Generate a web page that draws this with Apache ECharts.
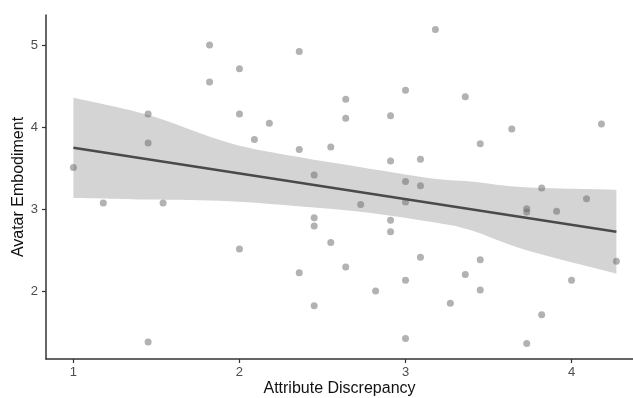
<!DOCTYPE html>
<html>
<head>
<meta charset="utf-8">
<script src="https://cdn.jsdelivr.net/npm/echarts@6/dist/echarts.min.js"></script>
<style>
  html, body { margin: 0; background: #fff; }
  #graph { width: 633px; height: 398px; }
</style>
</head>
<body>
<div id="graph"></div>
<script>
// scatter points
const discrepancy = [
  1.00, 1.18, 1.45, 1.45, 1.45, 1.54, 1.82, 1.82, 2.00, 2.00,
  2.00, 2.09, 2.18, 2.36, 2.36, 2.36, 2.45, 2.45, 2.45, 2.45,
  2.55, 2.55, 2.64, 2.64, 2.64, 2.73, 2.82, 2.91, 2.91, 2.91,
  2.91, 3.00, 3.00, 3.00, 3.00, 3.00, 3.09, 3.09, 3.09, 3.18,
  3.27, 3.36, 3.36, 3.45, 3.45, 3.45, 3.64, 3.73, 3.73, 3.73,
  3.82, 3.82, 3.91, 4.00, 4.09, 4.18, 4.27
];
const embodiment = [
  3.51, 3.08, 4.16, 3.81, 1.39, 3.08, 5.00, 4.55, 4.71, 4.16,
  2.52, 3.85, 4.05, 4.92, 3.73, 2.23, 3.42, 2.90, 2.80, 1.83,
  3.76, 2.60, 4.34, 4.11, 2.30, 3.06, 2.01, 4.14, 3.59, 2.87,
  2.73, 4.45, 3.34, 3.09, 2.14, 1.43, 3.61, 3.29, 2.42, 5.19,
  1.86, 4.37, 2.21, 3.80, 2.39, 2.02, 3.98, 3.01, 2.97, 1.37,
  3.26, 1.72, 2.98, 2.14, 3.13, 4.04, 2.37
];

// fitted line ends and confidence band edges
const fitX = [1.00, 4.27];
const fitY = [3.75, 2.73];
const bandX = [1.00, 1.45, 1.94, 2.35, 2.74, 3.15, 3.39, 3.72, 4.27];
const bandUpper = [4.36, 4.15, 3.81, 3.64, 3.51, 3.38, 3.34, 3.27, 3.24];
const bandLower = [3.14, 3.12, 3.10, 3.04, 2.97, 2.85, 2.75, 2.51, 2.22];

const xTicks = [1, 2, 3, 4];
const yTicks = [2, 3, 4, 5];

const chartDom = document.getElementById('graph');
const myChart = echarts.init(chartDom);

const points = discrepancy.map((x, i) => [x, embodiment[i]]);
const fitLine = fitX.map((x, i) => [x, fitY[i]]);

const font = 'Liberation Sans, Arial, sans-serif';

// smooth curve through pixel points (catmull-rom as cubic beziers)
function curveThrough(pts) {
  let d = '';
  for (let i = 0; i < pts.length - 1; i++) {
    const p0 = pts[i - 1] || pts[i];
    const p1 = pts[i];
    const p2 = pts[i + 1];
    const p3 = pts[i + 2] || p2;
    const c1 = [p1[0] + (p2[0] - p0[0]) / 6, p1[1] + (p2[1] - p0[1]) / 6];
    const c2 = [p2[0] - (p3[0] - p1[0]) / 6, p2[1] - (p3[1] - p1[1]) / 6];
    d += ' C' + c1[0] + ',' + c1[1] + ' ' + c2[0] + ',' + c2[1] + ' ' + p2[0] + ',' + p2[1];
  }
  return d;
}

const axisCommon = {
  type: 'value',
  z: 10,
  splitLine: { show: false },
  axisLine: { show: true, lineStyle: { color: '#333', width: 1.5 } },
  axisTick: { show: true, length: 4, lineStyle: { color: '#333', width: 1.2 } },
  axisLabel: { color: '#4d4d4d', fontSize: 13, fontFamily: font },
  nameTextStyle: { color: '#111', fontSize: 16, fontFamily: font },
  nameLocation: 'middle',
  nameMoveOverlap: false
};

const option = {
  animation: false,
  grid: { left: 46, right: 0, top: 15, bottom: 39, outerBoundsMode: 'none', containLabel: false },
  xAxis: Object.assign({}, axisCommon, {
    min: 0.835,
    max: 4.37,
    name: 'Attribute Discrepancy',
    nameGap: 22,
    axisTick: Object.assign({}, axisCommon.axisTick, { customValues: xTicks }),
    axisLabel: Object.assign({}, axisCommon.axisLabel, { customValues: xTicks, margin: 7 })
  }),
  yAxis: Object.assign({}, axisCommon, {
    min: 1.182,
    max: 5.365,
    name: 'Avatar Embodiment',
    nameGap: 19,
    axisTick: Object.assign({}, axisCommon.axisTick, { customValues: yTicks }),
    axisLabel: Object.assign({}, axisCommon.axisLabel, { customValues: yTicks, margin: 8 })
  }),
  series: [
    {
      name: 'band',
      type: 'custom',
      z: 1,
      silent: true,
      data: [[bandX[0], bandUpper[0]]],
      renderItem: function (params, api) {
        const up = bandX.map((x, i) => api.coord([x, bandUpper[i]]));
        const low = bandX.map((x, i) => api.coord([x, bandLower[i]])).reverse();
        const d = 'M' + up[0][0] + ',' + up[0][1] + curveThrough(up) +
          ' L' + low[0][0] + ',' + low[0][1] + curveThrough(low) + ' Z';
        return {
          type: 'path',
          shape: { pathData: d },
          style: { fill: '#d4d4d4', stroke: null }
        };
      }
    },
    {
      name: 'points',
      type: 'scatter',
      z: 3,
      symbolSize: 7,
      itemStyle: { color: '#666', opacity: 0.5 },
      data: points
    },
    {
      name: 'fit',
      type: 'line',
      z: 4,
      showSymbol: false,
      lineStyle: { color: '#4a4a4a', width: 2.5 },
      data: fitLine
    }
  ]
};

option && myChart.setOption(option);
</script>
</body>
</html>
